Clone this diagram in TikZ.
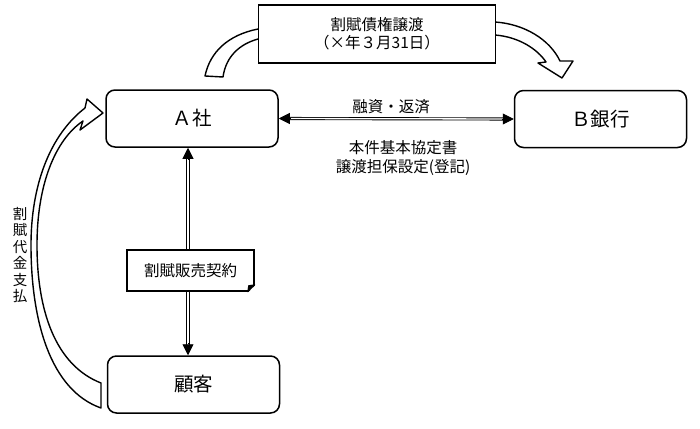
\documentclass[tikz,border=0pt]{standalone}
\usepackage{fontspec}
\setmainfont{Noto Sans CJK JP}
\usetikzlibrary{arrows.meta}

\begin{document}
\begin{tikzpicture}[x=1pt,y=-1pt,
    party/.style={draw,line width=1.5pt,rounded corners=9pt,fill=white,
        minimum width=172pt,minimum height=57pt,font=\fontsize{19.5}{21}\selectfont},
    link/.style={double,double distance=1.3pt,line width=0.9pt,
        shorten <=10pt,shorten >=10pt},
    tip/.style={line width=0.9pt,-{Triangle[length=11pt,width=11pt]}},
    bigarrow/.style={draw,fill=white,line width=1.4pt,line join=round},
    lbl/.style={font=\fontsize{15.5}{19}\selectfont,align=center}]
                {
    \useasboundingbox (0,0) rectangle (700,428);

    % curved arrows
    \draw[bigarrow] (205,76) .. controls (210,52) and (228,35) .. (258,29)
        -- (495,22) .. controls (525,24) and (550,40) .. (560,61)
        -- (573,61) -- (562,78) -- (538,63) -- (546,62)
        .. controls (538,50) and (520,37) .. (495,35)
        -- (258,39) .. controls (240,44) and (226,56) .. (223,77) -- cycle;
    \draw[bigarrow] (101,383) .. controls (55,365) and (37,310) .. (37,245)
        .. controls (37,185) and (55,140) .. (83,121)
        -- (80,130) -- (103,113) -- (87,99) -- (85,108)
        .. controls (50,135) and (31,185) .. (31,245)
        .. controls (31,320) and (50,390) .. (101,408) -- cycle;

    \node[draw,fill=white,line width=1.3pt,minimum width=237pt,minimum height=58pt,
        lbl,font=\fontsize{15.5}{18}\selectfont] (transfer) at (377,34)
        {割賦債権譲渡\\（×年３月31日）};

    \node[party] (a) at (192,118.5) {Ａ社};
    \node[party] (b) at (600.5,119) {Ｂ銀行};
    \node[party] (c) at (193.5,384.5) {顧客};

    \coordinate (atop) at ([xshift=-4pt]a.south);
    \coordinate (cbot) at (atop |- c.north);

    \draw[link] (a.east) -- (b.west);
    \draw[tip] ([xshift=12pt]a.east) -- (a.east);
    \draw[tip] ([xshift=-12pt]b.west) -- (b.west);
    \draw[link] (atop) -- (cbot);
    \draw[tip] ([yshift=-12pt]atop) -- (atop);
    \draw[tip] ([yshift=12pt]cbot) -- (cbot);

    \node[lbl] (loan) at (391,107) {融資・返済};
    \node[lbl] (terms) at (403,157.5) {本件基本協定書\\譲渡担保設定(登記)};

    \node[draw,fill=white,line width=1.5pt,minimum width=127pt,minimum height=41pt,
        lbl] (contract) at (190.5,270.5) {割賦販売契約};
    \fill[white] ([xshift=-7pt,yshift=-1pt]contract.south east)
        -- ([xshift=1pt,yshift=-1pt]contract.south east)
        -- ([xshift=1pt,yshift=7pt]contract.south east) -- cycle;
    \filldraw[line width=1pt,line join=round] ([xshift=-7pt]contract.south east)
        -- ([yshift=7pt]contract.south east)
        -- ([xshift=-6pt,yshift=6pt]contract.south east) -- cycle;

    \node[font=\fontsize{14.5}{16.5}\selectfont,align=center] (pay) at (20,255)
        {割\\賦\\代\\金\\支\\払};
}
\end{tikzpicture}
\end{document}
